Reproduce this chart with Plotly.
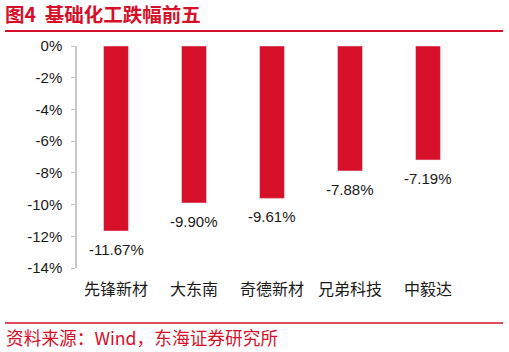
import plotly.graph_objects as go

categories = ["先锋新材", "大东南", "奇德新材", "兄弟科技", "中毅达"]
values = [-11.67, -9.90, -9.61, -7.88, -7.19]
labels = ["-11.67%", "-9.90%", "-9.61%", "-7.88%", "-7.19%"]
tickvals = [0, -2, -4, -6, -8, -10, -12, -14]
ticktext = ["0%", "-2%", "-4%", "-6%", "-8%", "-10%", "-12%", "-14%"]

RED = "#d7102a"
FONT = "Liberation Sans, Noto Sans CJK SC, sans-serif"

fig = go.Figure(go.Bar(
    x=categories, y=values,
    marker_color=RED, width=0.32,
    cliponaxis=False,
))

label_anns = [
    dict(x=c, y=v, text=t, xref="x", yref="y", showarrow=False,
         yanchor="top", yshift=-8,
         font=dict(size=15, color="#1a1a1a", family=FONT))
    for c, v, t in zip(categories, values, labels)
]

fig.update_layout(
    width=509, height=352,
    margin=dict(l=77, r=42, t=46, b=84),
    paper_bgcolor="white", plot_bgcolor="white",
    showlegend=False,
    font=dict(family=FONT, color="#1a1a1a"),
    xaxis=dict(showline=False, ticks="", tickfont=dict(size=16, family=FONT, color="#1a1a1a"),
               ticklabelstandoff=10, showgrid=False),
    yaxis=dict(range=[-14, 0], tickvals=tickvals, ticktext=ticktext,
               showline=True, linecolor="#c8c8c8", linewidth=1.5,
               ticks="outside", ticklen=4, tickcolor="#c8c8c8",
               ticklabelstandoff=6,
               tickfont=dict(size=15, family=FONT, color="#1a1a1a"),
               showgrid=False, zeroline=False),
    shapes=[
        dict(type="line", xref="paper", yref="paper", x0=-72/390, x1=426/390,
             y0=1 + 15/222, y1=1 + 15/222, line=dict(color=RED, width=2)),
        dict(type="line", xref="paper", yref="paper", x0=-72/390, x1=426/390,
             y0=-55/222, y1=-55/222, line=dict(color=RED, width=1.5)),
    ],
    annotations=label_anns + [
        dict(text="<b>图4  基础化工跌幅前五</b>", xref="paper", yref="paper",
             x=-74/390, y=1 + 32/222, xanchor="left", yanchor="middle",
             showarrow=False, font=dict(size=19.5, color=RED, family="Noto Sans CJK SC")),
        dict(text="资料来源：Wind，东海证券研究所", xref="paper", yref="paper",
             x=-73/390, y=-69/222, xanchor="left", yanchor="middle",
             showarrow=False, font=dict(size=17.7, color=RED, family="Noto Sans CJK SC")),
    ],
)

fig.write_html("out.html")
